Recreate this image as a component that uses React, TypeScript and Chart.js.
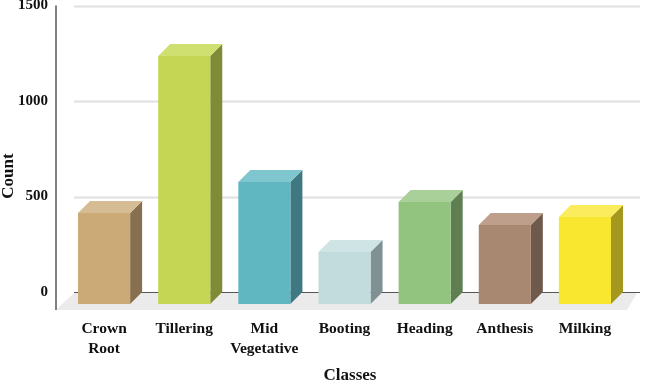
import React, { useEffect, useRef } from "react";
import { Chart, registerables } from "chart.js";

Chart.register(...registerables);

const categories = [["Crown", "Root"], "Tillering", ["Mid", "Vegetative"], "Booting", "Heading", "Anthesis", "Milking"];
const counts = [476, 1298, 639, 272, 534, 414, 455];
const frontColors = ["#CBAA78", "#C4D654", "#60B7C1", "#C2DCDD", "#93C47F", "#A98872", "#F8E62F"];
const sideColors = ["#87704F", "#7F8B36", "#3F7880", "#7F9192", "#5F7F53", "#6E594A", "#A4981F"];
const topColors = ["#D6BC94", "#CFE070", "#80C6CE", "#CFE4E4", "#A8D098", "#BD9F8B", "#FAEC5C"];
const yTicks = [0, 500, 1000, 1500];
const xTitle = "Classes";
const yTitle = "Count";

const DEPTH = 12;
const FONT = "'Liberation Serif', serif";

const box3d = {
  id: "box3d",
  beforeDatasetsDraw(chart: any) {
    const { ctx } = chart;
    const y = chart.scales.y;
    const zero = y.getPixelForValue(0);
    ctx.save();
    // floor
    ctx.fillStyle = "#EBEBEB";
    ctx.beginPath();
    ctx.moveTo(56, zero + 18);
    ctx.lineTo(74, zero + 1);
    ctx.lineTo(637, zero + 1);
    ctx.lineTo(627, zero + 18);
    ctx.closePath();
    ctx.fill();
    // gridlines
    yTicks.forEach((v) => {
      const py = Math.round(y.getPixelForValue(v)) + 0.5;
      ctx.strokeStyle = v === 0 ? "#555555" : "#E0E0E0";
      ctx.lineWidth = v === 0 ? 1 : 2;
      ctx.beginPath();
      ctx.moveTo(74, py);
      ctx.lineTo(640, py);
      ctx.stroke();
    });
    // axis line
    ctx.strokeStyle = "#808080";
    ctx.lineWidth = 2;
    ctx.beginPath();
    ctx.moveTo(56, y.getPixelForValue(1500));
    ctx.lineTo(56, zero + 18);
    ctx.stroke();
    // axis titles
    ctx.fillStyle = "#111111";
    ctx.font = `bold 17px ${FONT}`;
    ctx.textAlign = "center";
    ctx.textBaseline = "middle";
    ctx.fillText(xTitle, 350, 376);
    ctx.save();
    ctx.translate(9, 176);
    ctx.rotate(-Math.PI / 2);
    ctx.fillText(yTitle, 0, 0);
    ctx.restore();
    // side + top faces
    chart.getDatasetMeta(0).data.forEach((bar: any, i: number) => {
      const { x, y: top, base, width } = bar.getProps(["x", "y", "base", "width"], true);
      const l = x - width / 2;
      const r = x + width / 2;
      const t = top + DEPTH;
      const b = base + DEPTH;
      ctx.fillStyle = sideColors[i];
      ctx.beginPath();
      ctx.moveTo(r, t);
      ctx.lineTo(r + DEPTH, t - DEPTH);
      ctx.lineTo(r + DEPTH, b - DEPTH);
      ctx.lineTo(r, b);
      ctx.closePath();
      ctx.fill();
      ctx.fillStyle = topColors[i];
      ctx.beginPath();
      ctx.moveTo(l, t);
      ctx.lineTo(l + DEPTH, t - DEPTH);
      ctx.lineTo(r + DEPTH, t - DEPTH);
      ctx.lineTo(r, t);
      ctx.closePath();
      ctx.fill();
    });
    ctx.restore();
    // shift front faces forward onto the floor
    ctx.save();
    ctx.translate(0, DEPTH);
  },
  afterDatasetsDraw(chart: any) {
    chart.ctx.restore();
  },
};

export default function App() {
  const ref = useRef<HTMLCanvasElement>(null);
  useEffect(() => {
    const chart = new Chart(ref.current as HTMLCanvasElement, {
      type: "bar",
      data: {
        labels: categories as any,
        datasets: [
          {
            data: counts,
            backgroundColor: frontColors,
            borderWidth: 0,
            barPercentage: 0.65,
            categoryPercentage: 1,
            clip: false as any,
          },
        ],
      },
      options: {
        responsive: false,
        animation: false,
        layout: { padding: { top: 5.5, right: 20, left: 0, bottom: 0 } },
        plugins: { legend: { display: false }, tooltip: { enabled: false } },
        scales: {
          x: {
            grid: { display: false, drawTicks: false },
            border: { display: false },
            ticks: {
              padding: 27,
              maxRotation: 0,
              autoSkip: false,
              color: "#111111",
              font: { family: FONT, size: 15.5, weight: "bold", lineHeight: 1.3 },
            },
            afterFit(s: any) {
              s.height = 90;
              s.paddingLeft = 0;
              s.paddingRight = 0;
            },
          },
          y: {
            min: 0,
            max: 1500,
            grid: { display: false, drawTicks: false },
            border: { display: false },
            ticks: {
              stepSize: 500,
              padding: 16,
              color: "#111111",
              font: { family: FONT, size: 15, weight: "bold" },
              callback: (v: any) => String(v),
            },
            afterFit(s: any) {
              s.width = 64;
              s.paddingTop = 0;
              s.paddingBottom = 0;
            },
          },
        },
      },
      plugins: [box3d],
    } as any);
    return () => chart.destroy();
  }, []);
  return (
    <div style={{ position: "fixed", left: 0, top: 0, width: 645, height: 382, background: "#fff" }}>
      <canvas ref={ref} width={645} height={382} style={{ display: "block" }} />
    </div>
  );
}
